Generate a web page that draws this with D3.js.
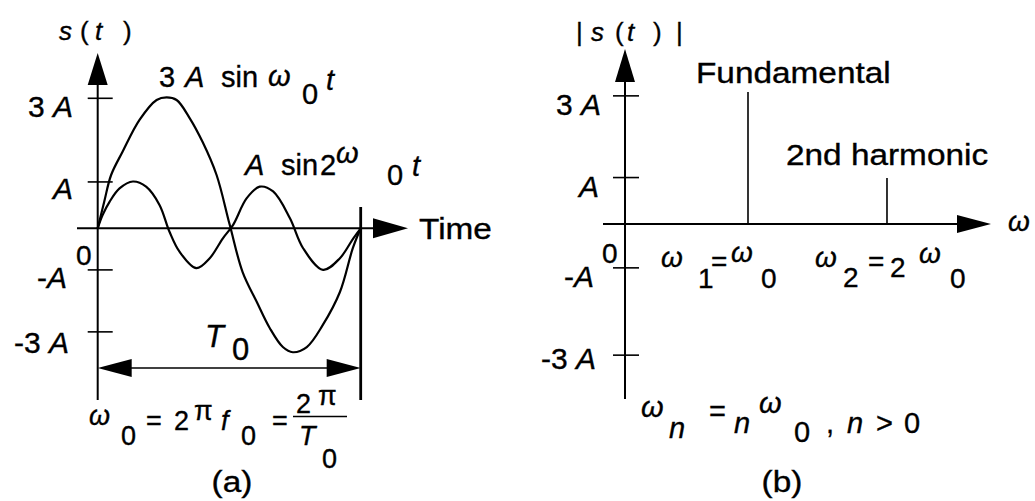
<!DOCTYPE html>
<html>
<head>
<meta charset="utf-8">
<script src="https://cdn.jsdelivr.net/npm/d3@7"></script>
<style>
  body { margin: 0; background: #fff; }
  text { font-family: "Liberation Sans", Arial, sans-serif; fill: #000; stroke: #000; stroke-width: 0.35; }
</style>
</head>
<body>
<svg id="figure"></svg>
<script>
// (a) time signals, t in units of T0, value in units of A
const fundamentalWave = [[0,0],[0.025,0.62],[0.051,1.23],[0.094,1.76],[0.159,2.50],[0.224,2.96],[0.262,3.02],[0.300,2.96],[0.349,2.55],[0.399,1.99],[0.452,1.23],[0.502,0.08],[0.551,-1.01],[0.605,-1.70],[0.654,-2.30],[0.704,-2.74],[0.742,-2.86],[0.795,-2.74],[0.856,-2.23],[0.921,-1.47],[0.970,-0.46],[1,0]]
const harmonicWave = [[0,0],[0.019,0.31],[0.045,0.61],[0.083,0.92],[0.134,1.08],[0.184,0.96],[0.235,0.54],[0.273,-0.08],[0.311,-0.54],[0.375,-0.92],[0.426,-0.69],[0.476,-0.23],[0.515,0.08],[0.566,0.69],[0.616,0.96],[0.667,0.85],[0.731,0.23],[0.781,-0.46],[0.857,-0.96],[0.921,-0.69],[0.972,-0.23],[1,0]]

// tick marks as drawn (the figure is not to scale)
const timeTickLabels = ["3 A", "A", "-A", "-3 A"]
const timeTickValues = [3.0, 1.07, -0.96, -2.39]

// (b) spectrum, frequency in units of w0, magnitude in units of A
const spectrumLabels = ["Fundamental", "2nd harmonic"]
const spectrumFreqs = [1, 2.13]
const spectrumMags = [3.07, 1.07]
const specTickLabels = ["3 A", "A", "-A", "-3 A"]
const specTickValues = [2.98, 1.08, -1.02, -3.05]

class SignalFigure {
    constructor() {
        this.width = 1035
        this.height = 501
        this.wordStretch = 1.15   // plain words are set wider than the maths

        this.svg = d3.select('#figure')
            .attr('width', this.width)
            .attr('height', this.height)

        this.drawTimePanel()
        this.drawSpectrumPanel()
    }

    // place one piece of text
    label(g, str, x, y, italic, size, anchor, sx) {
        return g.append('text')
            .attr('transform', `translate(${x},${y}) scale(${sx || 1},1)`)
            .attr('font-size', size || 27)
            .attr('font-style', italic ? 'italic' : null)
            .attr('text-anchor', anchor || 'start')
            .text(str)
    }

    word(g, str, x, y, anchor) {
        return this.label(g, str, x, y, false, 29, anchor, this.wordStretch)
    }

    pieces(g, list, size) {
        list.forEach(p => this.label(g, p[0], p[1], p[2], p[3], size))
    }

    tri(g, pts) {
        g.append('path').attr('d', 'M' + pts.map(p => p.join(',')).join('L') + 'Z').attr('fill', '#000')
    }

    tickLabels(g, labels, pos) {
        labels.forEach((t, i) => {
            let parts = t.split(' ')
            let el = g.append('text')
                .attr('x', pos[i][0]).attr('y', pos[i][1])
                .attr('font-size', 30).attr('text-anchor', 'end')
            if (parts.length > 1) el.append('tspan').text(parts[0] + ' ')
            let a = parts[parts.length - 1]
            if (a[0] === '-') { el.append('tspan').text('-'); a = a.slice(1) }
            el.append('tspan').attr('font-style', 'italic').text(a)
        })
    }

    drawTimePanel() {
        let g = this.svg.append('g')
        let x = d3.scaleLinear().domain([0, 1]).range([97.7, 360.7])
        let y = d3.scaleLinear().domain([0, 3]).range([228.3, 98.3])
        let x0 = x(0), y0 = y(0)

        // axes
        g.append('line').attr('x1', x0).attr('x2', x0).attr('y1', 80).attr('y2', 400)
            .attr('stroke', '#000').attr('stroke-width', 2)
        this.tri(g, [[x0, 53], [x0 - 10, 85], [x0 + 10, 85]])
        g.append('line').attr('x1', 77).attr('x2', 380).attr('y1', y0).attr('y2', y0)
            .attr('stroke', '#000').attr('stroke-width', 2)
        this.tri(g, [[408, y0], [373, y0 - 10], [373, y0 + 10]])

        // ticks
        g.selectAll('.tick').data(timeTickValues).join('line')
            .attr('x1', x0 - 10).attr('x2', x0 + 15)
            .attr('y1', d => y(d)).attr('y2', d => y(d))
            .attr('stroke', '#000').attr('stroke-width', 1.6)
        this.tickLabels(g, timeTickLabels, [[73, 117], [73, 199], [67, 288], [69, 353]])
        this.label(g, '0', 76, 265, false, 28)

        // period marker
        g.append('line').attr('x1', x(1)).attr('x2', x(1)).attr('y1', 207).attr('y2', 400)
            .attr('stroke', '#000').attr('stroke-width', 2.8)
        let ya = 368
        g.append('line').attr('x1', x0 + 20).attr('x2', x(1) - 20).attr('y1', ya).attr('y2', ya)
            .attr('stroke', '#000').attr('stroke-width', 1.6)
        this.tri(g, [[x0, ya], [x0 + 34, ya - 9], [x0 + 34, ya + 9]])
        this.tri(g, [[x(1), ya], [x(1) - 34, ya - 9], [x(1) - 34, ya + 9]])

        // waveforms
        let line = d3.line().x(d => x(d[0])).y(d => y(d[1])).curve(d3.curveCatmullRom)
        g.selectAll('.wave').data([fundamentalWave, harmonicWave]).join('path')
            .attr('d', line)
            .attr('fill', 'none').attr('stroke', '#000').attr('stroke-width', 2.2)

        // annotations
        this.pieces(g, [['s', 59, 40, 1], ['(', 80, 40, 0], ['t', 95, 40, 1], [')', 123, 40, 0]], 26)
        this.pieces(g, [['3', 159, 87, 0], ['A', 185, 87, 1], ['sin', 221, 87, 0], ['ω', 268, 86, 1], ['0', 302, 104, 0], ['t', 326, 90, 1]], 29)
        this.pieces(g, [['A', 245, 175, 1], ['sin', 281, 175, 0], ['2', 320, 175, 0], ['ω', 336, 163, 1], ['0', 387, 185, 0], ['t', 412, 176, 1]], 29)
        this.word(g, 'Time', 419, 239)
        this.pieces(g, [['T', 205, 347, 1], ['0', 232, 360, 0]], 31)
        this.pieces(g, [['ω', 89, 425, 1], ['0', 121, 445, 0], ['=', 146, 430, 0], ['2', 174, 430, 0], ['π', 194, 420, 0],
            ['f', 221, 430, 1], ['0', 241, 445, 0], ['=', 272, 430, 0], ['2', 296, 413, 0], ['π', 318, 405, 0],
            ['T', 299, 445, 1], ['0', 322, 468, 0]], 27)
        g.append('line').attr('x1', 293).attr('x2', 347).attr('y1', 416.5).attr('y2', 416.5)
            .attr('stroke', '#000').attr('stroke-width', 1.6)
        this.word(g, '(a)', 232, 492, 'middle')
    }

    drawSpectrumPanel() {
        let g = this.svg.append('g')
        let x = d3.scaleLinear().domain([0, 1]).range([625, 748])
        let y = d3.scaleLinear().domain([0, 3]).range([224, 95])
        let x0 = x(0), y0 = y(0)

        g.append('line').attr('x1', x0).attr('x2', x0).attr('y1', 76).attr('y2', 399)
            .attr('stroke', '#000').attr('stroke-width', 2)
        this.tri(g, [[x0, 49], [x0 - 10, 82], [x0 + 10, 82]])
        g.append('line').attr('x1', 603).attr('x2', 965).attr('y1', y0).attr('y2', y0)
            .attr('stroke', '#000').attr('stroke-width', 2)
        this.tri(g, [[991, y0], [957, y0 - 9], [957, y0 + 9]])

        g.selectAll('.tick').data(specTickValues).join('line')
            .attr('x1', x0 - 12).attr('x2', x0 + 14)
            .attr('y1', d => y(d)).attr('y2', d => y(d))
            .attr('stroke', '#000').attr('stroke-width', 1.6)
        this.tickLabels(g, specTickLabels, [[601, 115], [599, 197], [594, 287], [596, 369]])
        this.label(g, '0', 602, 263, false, 28)

        // spectral lines
        g.selectAll('.spec').data(spectrumFreqs).join('line')
            .attr('x1', d => x(d)).attr('x2', d => x(d))
            .attr('y1', y0).attr('y2', (d, i) => y(spectrumMags[i]))
            .attr('stroke', '#000').attr('stroke-width', 1.6)
        let lx = [696, 786], ly = [83, 165]
        spectrumLabels.forEach((s, i) => this.word(g, s, lx[i], ly[i]))

        this.pieces(g, [['|', 576, 41, 0], ['s', 591, 41, 1], ['(', 615, 41, 0], ['t', 627, 41, 1], [')', 653, 41, 0], ['|', 676, 41, 0]], 26)
        this.label(g, 'ω', 1008, 231, true, 28)
        this.pieces(g, [['ω', 661, 267, 1], ['1', 698, 288, 0], ['=', 711, 271, 0], ['ω', 731, 262, 1], ['0', 761, 288, 0]], 28)
        this.pieces(g, [['ω', 815, 267, 1], ['2', 843, 287, 0], ['=', 868, 271, 0], ['2', 890, 277, 0], ['ω', 919, 263, 1], ['0', 950, 288, 0]], 28)
        this.pieces(g, [['ω', 641, 417, 1], ['n', 669, 438, 1], ['=', 709, 421, 0], ['n', 734, 433, 1], ['ω', 759, 413, 1],
            ['0', 794, 442, 0], [',', 826, 433, 0], ['n', 847, 433, 1], ['>', 876, 433, 0], ['0', 904, 433, 0]], 29)
        this.word(g, '(b)', 782, 492, 'middle')
    }
}

new SignalFigure()
</script>
</body>
</html>
